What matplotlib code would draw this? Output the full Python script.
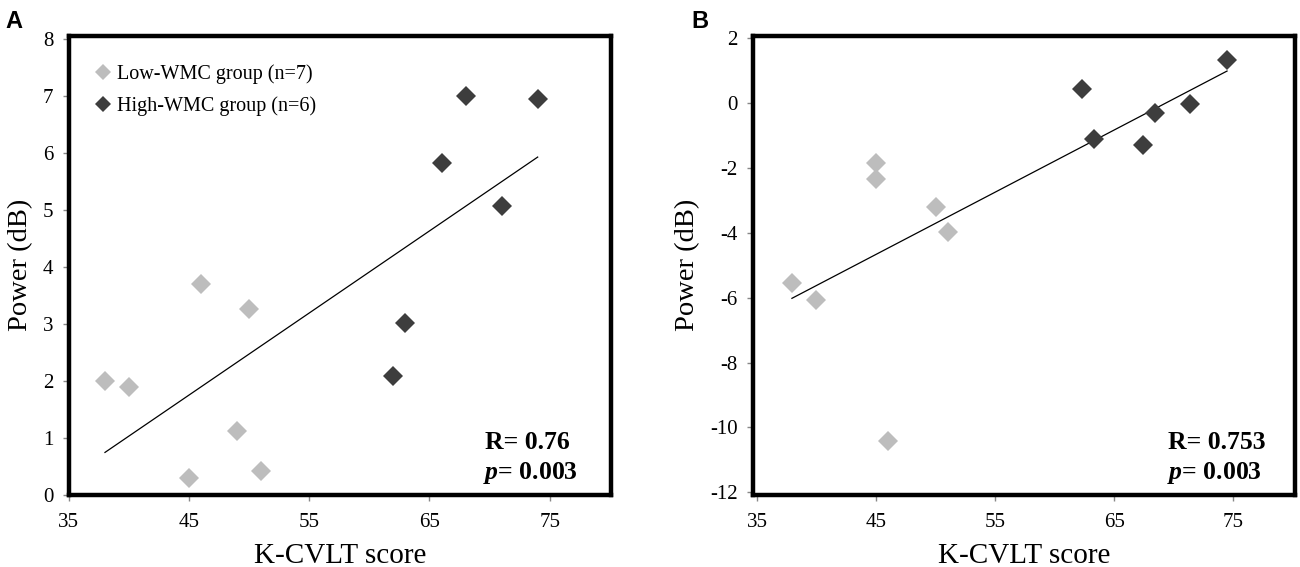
import numpy as np
from matplotlib import pyplot as plt
from matplotlib.lines import Line2D

plt.rcParams['font.family'] = ['Liberation Serif', 'DejaVu Serif']
plt.rcParams['axes.unicode_minus'] = False
plt.rcParams['mathtext.fontset'] = 'custom'
plt.rcParams['mathtext.it'] = 'Liberation Serif:italic:bold'
plt.rcParams['mathtext.rm'] = 'Liberation Serif:bold'

# Panel A: alpha power vs K-CVLT score
a_low_x = [38, 40, 45, 46, 49, 50, 51]
a_low_y = [2.0, 1.9, 0.3, 3.7, 1.12, 3.26, 0.42]
a_high_x = [62, 63, 66, 68, 71, 74]
a_high_y = [2.08, 3.02, 5.82, 7.0, 5.07, 6.94]

# Panel B
b_low_x = [37.9, 39.9, 45, 45, 46, 50, 51]
b_low_y = [-5.55, -6.08, -1.84, -2.33, -10.42, -3.2, -3.97]
b_high_x = [62.3, 63.3, 67.4, 68.4, 71.4, 74.5]
b_high_y = [0.44, -1.1, -1.3, -0.32, -0.03, 1.32]

stats_a = ["R= 0.76", r"$\it{p}$= 0.003"]
stats_b = ["R= 0.753", r"$\it{p}$= 0.003"]

low_color = "#bdbdbd"
high_color = "#3d3d3d"

fig = plt.figure(figsize=(13, 5.67), dpi=100)
axA = fig.add_axes([0.053, 0.127, 0.417, 0.81])
axB = fig.add_axes([0.579, 0.127, 0.417, 0.81])


def draw_panel(ax, lx, ly, hx, hy, stats, xlim, ylim, yticks):
    ax.plot(lx, ly, 'D', color=low_color, ms=10.6, mew=0, zorder=3)
    ax.plot(hx, hy, 'D', color=high_color, ms=10.6, mew=0, zorder=3)
    # fitted line over all subjects
    allx = np.array(lx + hx)
    ally = np.array(ly + hy)
    k, b = np.polyfit(allx, ally, 1)
    xs = np.array([allx.min(), allx.max()])
    ax.plot(xs, k * xs + b, color='black', lw=0.9, zorder=2)

    ax.set_xlim(*xlim)
    ax.set_ylim(*ylim)
    ax.set_xticks([35, 45, 55, 65, 75])
    ax.set_yticks(yticks)
    for s in ax.spines.values():
        s.set_linewidth(3.2)
    ax.tick_params(direction='out', length=4, width=1, color='#888888',
                   labelsize=15)
    ax.tick_params(axis='x', pad=9)
    ax.tick_params(axis='y', pad=7)
    ax.set_xlabel("K-CVLT score", fontsize=21, labelpad=8)
    ax.set_ylabel("Power (dB)", fontsize=20.5, labelpad=7)

    ax.text(0.767, 0.115, stats[0], transform=ax.transAxes, fontsize=18.5,
            fontweight='bold', va='center', ha='left')
    ax.text(0.764, 0.048, stats[1], transform=ax.transAxes, fontsize=18.5,
            fontweight='bold', va='center', ha='left')


draw_panel(axA, a_low_x, a_low_y, a_high_x, a_high_y, stats_a,
           (35, 80.1), (0, 8.05), range(0, 9))
draw_panel(axB, b_low_x, b_low_y, b_high_x, b_high_y, stats_b,
           (34.6, 80.2), (-12.08, 2.07), range(-12, 3, 2))

handles = [
    Line2D([], [], marker='D', ls='none', color=low_color, ms=8, mew=0),
    Line2D([], [], marker='D', ls='none', color=high_color, ms=8, mew=0),
]
axA.legend(handles, ["Low-WMC group (n=7)", "High-WMC group (n=6)"],
           loc='upper left', bbox_to_anchor=(0.045, 0.937), frameon=False,
           fontsize=14.5, handlelength=1.0, handletextpad=0.2,
           labelspacing=0.6, borderpad=0, borderaxespad=0)

fig.text(0.0045, 0.962, "A", fontsize=17, fontweight='bold',
         family='Liberation Sans', va='center')
fig.text(0.532, 0.962, "B", fontsize=17, fontweight='bold',
         family='Liberation Sans', va='center')

fig.savefig("out.png", dpi=100)
